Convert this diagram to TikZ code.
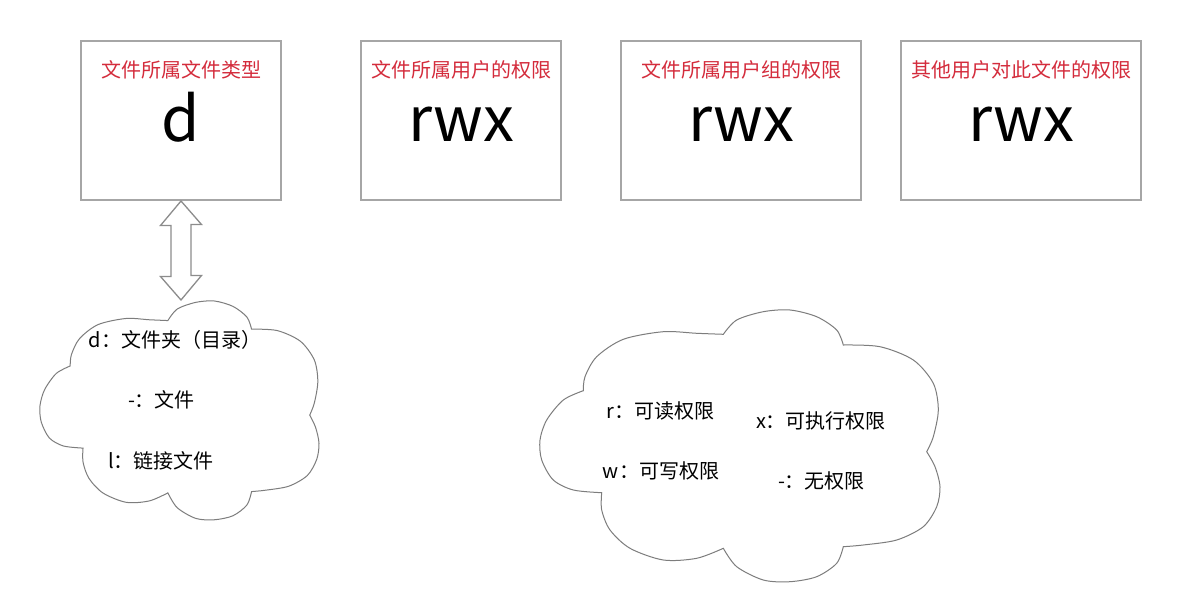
\documentclass[tikz,border=0pt]{standalone}
\usepackage{fontspec}
\setmainfont{Noto Sans CJK SC}
\definecolor{boxgray}{RGB}{166,166,166}
\definecolor{cloudgray}{RGB}{125,125,125}
\definecolor{arrowgray}{RGB}{140,140,140}
\definecolor{titlered}{RGB}{212,44,60}
\tikzset{
  box/.style={draw=boxgray, line width=2pt, fill=white, minimum width=#1, minimum height=159pt, inner sep=0pt},
  title/.style={anchor=base, text=titlered, font=\fontsize{20}{24}\selectfont, inner sep=0pt},
  big/.style={anchor=base, font=\fontsize{62}{66}\selectfont, inner sep=0pt},
  ctext/.style={anchor=base, font=\fontsize{20}{24}\selectfont, inner sep=0pt},
  cloudline/.style={draw=cloudgray, line width=1pt, fill=white, line join=miter},
  dblarrow/.style={draw=arrowgray, line width=1.3pt, fill=white, line join=miter}
}
\newcommand{\cloudoutline}{%
  plot[smooth] coordinates {(-0.7835,-0.4066) (-0.775,-0.5096) (-0.7165,-0.6566) (-0.5835,-0.7846) (-0.3835,-0.8404) (-0.2165,-0.8287) (-0.0835,-0.8213)}
  -- plot[smooth] coordinates {(-0.0835,-0.8213) (-0.0165,-0.9265) (0.1165,-0.9875) (0.25,-1.0) (0.3835,-0.9507) (0.4835,-0.8529) (0.5165,-0.7426)}
  -- plot[smooth] coordinates {(0.5165,-0.7426) (0.7,-0.7301) (0.8665,-0.6324) (0.9665,-0.461) (0.9915,-0.2647) (0.9665,-0.0684) (0.9335,0.0419)}
  -- plot[smooth] coordinates {(0.9335,0.0419) (0.975,0.1522) (1.0,0.2993) (0.9835,0.4463) (0.9165,0.5934) (0.7835,0.6912) (0.6165,0.7279) (0.5165,0.7404)}
  -- plot[smooth] coordinates {(0.5165,0.7404) (0.4835,0.8625) (0.3835,0.9610) (0.25,0.9978) (0.1165,0.9853) (-0.0165,0.8875) (-0.0835,0.7522)}
  -- plot[smooth] coordinates {(-0.0835,0.7522) (-0.2165,0.8257) (-0.3835,0.8382) (-0.55,0.7522) (-0.65,0.6176) (-0.6915,0.4706) (-0.6915,0.3434)}
  -- plot[smooth] coordinates {(-0.6915,0.3434) (-0.8335,0.3235) (-0.9335,0.25) (-0.9915,0.1029) (-1.0,-0.0441) (-0.9665,-0.1912) (-0.8835,-0.3382) (-0.7835,-0.4066)}
  -- cycle}
\begin{document}
\begin{tikzpicture}[x=1pt, y=-1pt]
\useasboundingbox[fill=white] (0,0) rectangle (1182,612);

% boxes
\node[box=200pt] (b1) at (181,120.5) {};
\node[box=200pt] (b2) at (461,120.5) {};
\node[box=240pt] (b3) at (741,120.5) {};
\node[box=240pt] (b4) at (1021,120.5) {};

\node[title] (t1) at (181,77.4) {文件所属文件类型};
\node[title] (t2) at (461,77.4) {文件所属用户的权限};
\node[title] (t3) at (741,77.4) {文件所属用户组的权限};
\node[title] (t4) at (1021,77.4) {其他用户对此文件的权限};

\node[big] (v1) at (181,141.5) {d};
\node[big] (v2) at (461,141.5) {rwx};
\node[big] (v3) at (741,141.5) {rwx};
\node[big] (v4) at (1021,141.5) {rwx};

% clouds
\begin{scope}[shift={(179.5,410.5)}, x={(139.5pt,0pt)}, y={(0pt,-109.5pt)}]
  \draw[cloudline] \cloudoutline;
\end{scope}
\begin{scope}[shift={(740,446)}, x={(200pt,0pt)}, y={(0pt,-136pt)}]
  \draw[cloudline] \cloudoutline;
\end{scope}
\coordinate (c1top) at (181,300);

% double arrow between box 1 and cloud 1
\draw[dblarrow] (b1.south) -- ++(-20.5,24.5) -- ++(10.5,0) -- ++(0,51) -- ++(-10.5,0)
  -- (c1top) -- ++(20.5,-24.5) -- ++(-10.5,0) -- ++(0,-51) -- ++(10.5,0) -- cycle;

% cloud 1 text
\node[ctext] (d1) at (175,347.6) {d：文件夹（目录）};
\node[ctext] (d2) at (161.5,407.6) {-：文件};
\node[ctext] (d3) at (161,468.6) {l：链接文件};

% cloud 2 text
\node[ctext] (p1) at (660.5,418.6) {r：可读权限};
\node[ctext] (p2) at (821,428.6) {x：可执行权限};
\node[ctext] (p3) at (661,478.6) {w：可写权限};
\node[ctext] (p4) at (821.5,488.6) {-：无权限};
\end{tikzpicture}
\end{document}
